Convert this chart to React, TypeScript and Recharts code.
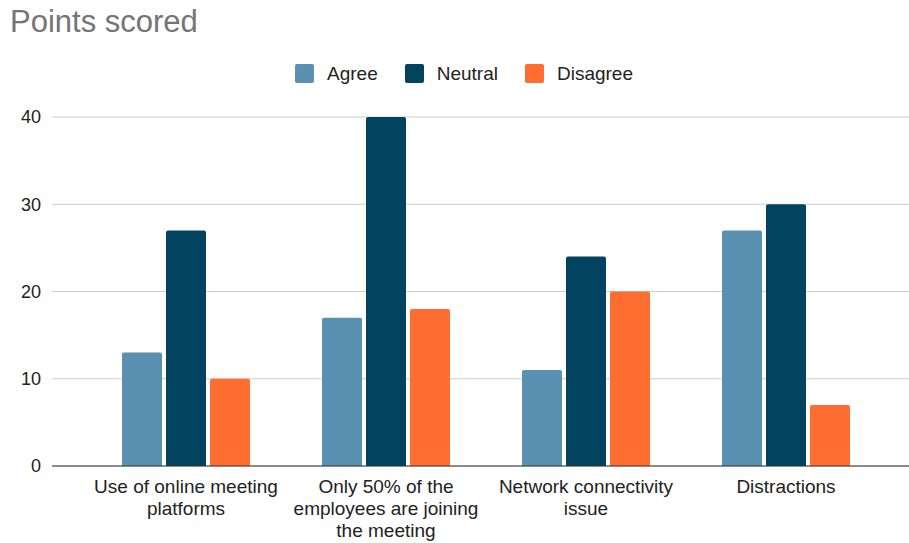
import React from 'react';
import { BarChart, Bar, XAxis, YAxis, CartesianGrid } from 'recharts';

const categories = [
  'Use of online meeting platforms',
  'Only 50% of the employees are joining the meeting',
  'Network connectivity issue',
  'Distractions',
];
const agree = [13, 17, 11, 27];
const neutral = [27, 40, 24, 30];
const disagree = [10, 18, 20, 7];
const yTicks = [0, 10, 20, 30, 40];

const series = [
  { key: 'agree', name: 'Agree', color: '#5a91b0' },
  { key: 'neutral', name: 'Neutral', color: '#02445f' },
  { key: 'disagree', name: 'Disagree', color: '#ff6d31' },
];

const data = categories.map((c, i) => ({
  category: c,
  agree: agree[i],
  neutral: neutral[i],
  disagree: disagree[i],
}));

const font = '"Liberation Sans", Arial, sans-serif';

let ctx: CanvasRenderingContext2D | null = null;
function wrap(label: string, maxWidth: number, size: number) {
  if (!ctx) ctx = document.createElement('canvas').getContext('2d');
  const measure = (s: string) => {
    if (!ctx) return s.length * size * 0.5;
    ctx.font = `${size}px ${font}`;
    return ctx.measureText(s).width;
  };
  const lines: string[] = [];
  let cur = '';
  label.split(' ').forEach((w) => {
    const next = cur ? cur + ' ' + w : w;
    if (cur && measure(next) > maxWidth) {
      lines.push(cur);
      cur = w;
    } else {
      cur = next;
    }
  });
  if (cur) lines.push(cur);
  return lines;
}

function CategoryTick(props: any) {
  const { x, y, payload } = props;
  const lines = wrap(payload.value, 196, 19);
  return (
    <text
      x={x}
      y={y}
      textAnchor="middle"
      fontSize={19}
      fontFamily={font}
      fill="#222"
    >
      {lines.map((l, i) => (
        <tspan key={i} x={x} dy={i === 0 ? 13 : 22}>
          {l}
        </tspan>
      ))}
    </text>
  );
}

export default function App() {
  return (
    <div
      style={{
        position: 'absolute',
        left: 0,
        top: 0,
        width: 909,
        height: 543,
        background: '#fff',
        fontFamily: font,
      }}
    >
      <div
        style={{
          position: 'absolute',
          left: 10,
          top: 4,
          fontSize: 31,
          color: '#757575',
        }}
      >
        Points scored
      </div>
      <div
        style={{
          position: 'absolute',
          left: 295,
          top: 64,
          display: 'flex',
          alignItems: 'center',
          fontSize: 19,
          color: '#222',
        }}
      >
        {series.map((s) => (
          <div key={s.key} style={{ display: 'flex', alignItems: 'center', marginRight: 27 }}>
            <span
              style={{
                width: 19,
                height: 19,
                borderRadius: 2,
                background: s.color,
                marginRight: 13,
                display: 'inline-block',
              }}
            />
            <span style={{ lineHeight: '19px' }}>{s.name}</span>
          </div>
        ))}
      </div>
      <BarChart
        width={909}
        height={543}
        data={data}
        margin={{ top: 117, right: 0, left: 0, bottom: 0 }}
        barCategoryGap={36}
        barGap={4}
      >
        <CartesianGrid vertical={false} stroke="#cccccc" />
        <XAxis
          dataKey="category"
          padding={{ left: 34, right: 23 }}
          axisLine={{ stroke: '#333', strokeWidth: 1 }}
          tickLine={false}
          tickSize={0}
          tickMargin={14}
          tick={<CategoryTick />}
          interval={0}
          height={77}
        />
        <YAxis
          domain={[0, 40]}
          ticks={yTicks}
          width={52}
          axisLine={false}
          tickLine={false}
          tickSize={0}
          tickMargin={11}
          tick={{ fontSize: 18, fill: '#222', fontFamily: font }}
        />
        {series.map((s) => (
          <Bar
            key={s.key}
            dataKey={s.key}
            name={s.name}
            fill={s.color}
            barSize={40}
            radius={[2, 2, 0, 0]}
            isAnimationActive={false}
          />
        ))}
      </BarChart>
    </div>
  );
}
